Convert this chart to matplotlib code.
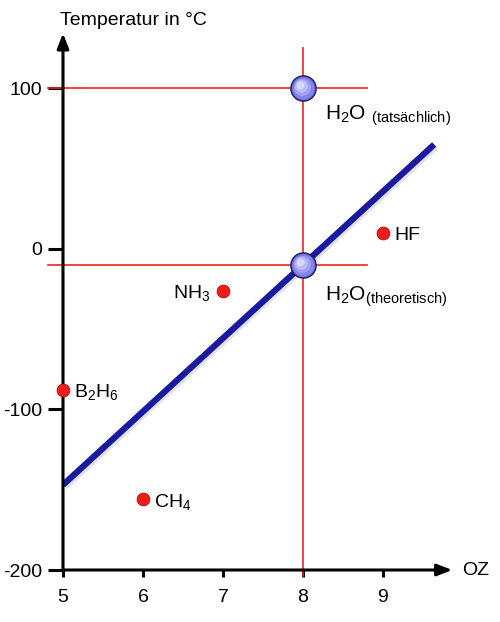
import matplotlib
matplotlib.use('Agg')
import matplotlib.pyplot as plt
from matplotlib import transforms

plt.rcParams['font.family'] = ['Liberation Sans', 'DejaVu Sans']
plt.rcParams['mathtext.fontset'] = 'custom'
plt.rcParams['mathtext.rm'] = 'Liberation Sans'
plt.rcParams['mathtext.it'] = 'Liberation Sans'
plt.rcParams['axes.unicode_minus'] = False

# Siedetemperaturen der Hydride
oz = [5, 6, 7, 9]
temp = [-88, -156, -26, 10]
names = ['B$_2$H$_6$', 'CH$_4$', 'NH$_3$', 'HF']
label_side = ['right', 'right', 'left', 'right']

h2o_oz = 8
h2o_real = 100
h2o_theo = -10

trend_x = [5, 9.64]
trend_y = [-147, 65]

xticks = [5, 6, 7, 8, 9]
yticks = [100, 0, -100, -200]

FS = 14

fig = plt.figure(figsize=(5, 6.22), dpi=100)
ax = fig.add_axes([0.126, 0.0836, 0.8, 0.9035])
ax.set_xlim(5, 10)
ax.set_ylim(-200, 150)
for s in ax.spines.values():
    s.set_visible(False)

# Hilfslinien
red = '#f42020'
ax.plot([4.81, 8.8], [h2o_real, h2o_real], color=red, lw=1.2, clip_on=False, zorder=2)
ax.plot([4.81, 8.8], [h2o_theo, h2o_theo], color=red, lw=1.2, clip_on=False, zorder=2)
ax.plot([h2o_oz, h2o_oz], [-204, 125], color=red, lw=1.2, clip_on=False, zorder=2)

# Achsen mit Pfeilen
ax.annotate('', xy=(9.9, -200), xytext=(4.98, -200),
            arrowprops=dict(arrowstyle='-|>,head_length=0.9,head_width=0.35', color='black', lw=2.2),
            annotation_clip=False, zorder=5)
ax.annotate('', xy=(5, 136), xytext=(5, -201),
            arrowprops=dict(arrowstyle='-|>,head_length=0.9,head_width=0.35', color='black', lw=2.2),
            annotation_clip=False, zorder=5)

ax.set_xticks(xticks)
ax.set_yticks(yticks)
ax.tick_params(axis='x', length=5, width=2.2, pad=9, labelsize=FS)
ax.tick_params(axis='y', length=11, width=2.2, pad=4, labelsize=FS)

ax.text(4.96, 142, 'Temperatur in °C', fontsize=FS, ha='left', va='center', clip_on=False)
ax.text(9.99, -200, 'OZ', fontsize=FS, ha='left', va='center', clip_on=False)

# Trendlinie mit leichtem Schatten
shadow = transforms.offset_copy(ax.transData, fig=fig, x=1.5, y=-1.5, units='points')
ax.plot(trend_x, trend_y, color='#e2e2ea', lw=4.5, solid_capstyle='butt', transform=shadow, zorder=3)
ax.plot(trend_x, trend_y, color='#1a1aa0', lw=4.5, solid_capstyle='butt', zorder=4)

# rote Punkte
ax.scatter(oz, temp, s=85, color='#f01c1c', edgecolor='#b01010', linewidth=0.6, zorder=6, clip_on=False)
for x, y, n, side in zip(oz, temp, names, label_side):
    if side == 'right':
        ax.text(x + 0.14, y - 4.5, n, fontsize=FS, ha='left', va='baseline')
    else:
        ax.text(x - 0.16, y - 4.5, n, fontsize=FS, ha='right', va='baseline')

# blaue Kugeln fuer Wasser
for y in [h2o_real, h2o_theo]:
    ax.scatter([h2o_oz], [y], s=330, color='#6a6ae0', edgecolor='#20204a', linewidth=1.0, zorder=7)
    for k, (sz, c) in enumerate([(240, '#8585ee'), (150, '#a0a0f4'), (80, '#bcbcf8'), (30, '#d8d8fc')]):
        hl = transforms.offset_copy(ax.transData, fig=fig, x=-0.8 * k, y=0.8 * k, units='points')
        ax.scatter([h2o_oz], [y], s=sz, color=c, linewidth=0, zorder=8 + k, transform=hl)

ax.text(8.28, 80.5, 'H$_2$O $_{\\mathrm{(tatsächlich)}}$', fontsize=FS + 1, ha='left', va='baseline')
ax.text(8.28, -32, 'H$_2$O$_{\\mathrm{(theoretisch)}}$', fontsize=FS + 1, ha='left', va='baseline')

fig.savefig('out.png', dpi=100)
